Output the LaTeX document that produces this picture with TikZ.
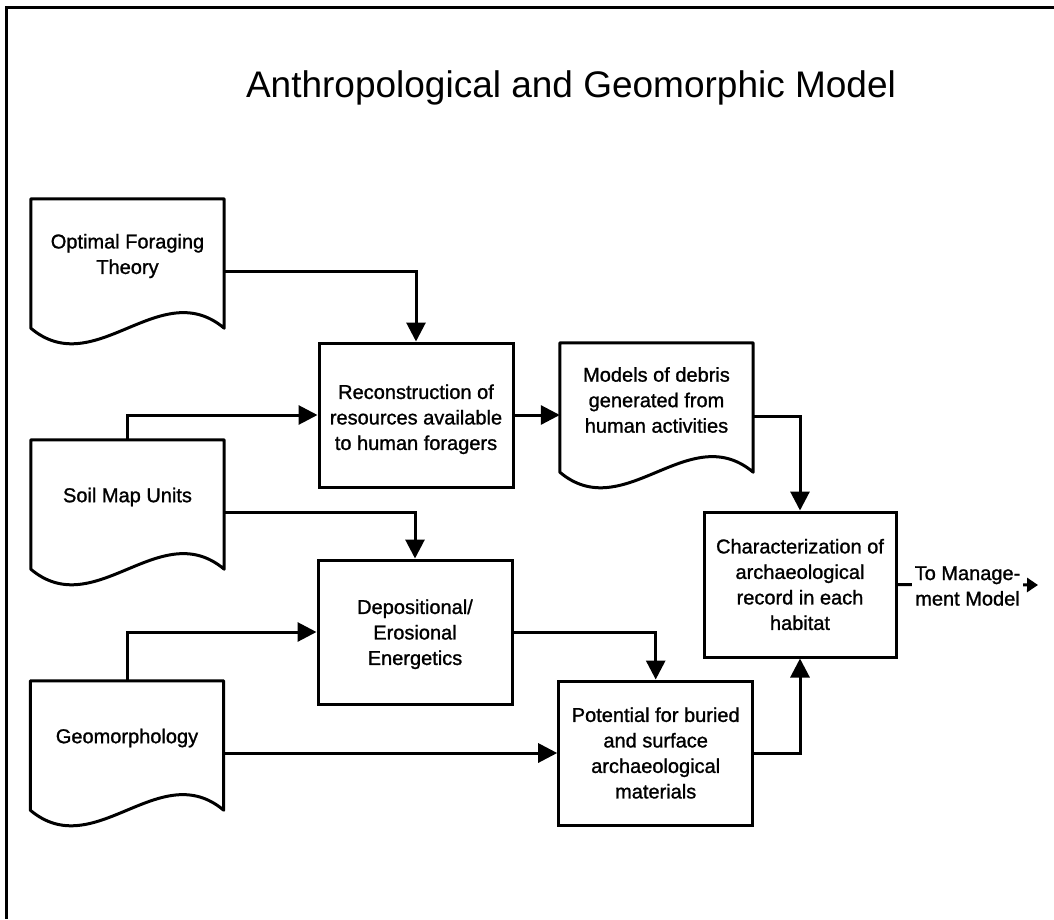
\documentclass[tikz,border=0pt]{standalone}
\usepackage{fontspec}
\setmainfont{Liberation Sans}
\newfontfamily\heavysans[RawFeature={embolden=1.2}]{Liberation Sans}
\usetikzlibrary{arrows.meta}
\begin{document}
\begin{tikzpicture}[x=1pt,y=-1pt,
  txt/.style={font=\heavysans\fontsize{20}{25.5}\selectfont, align=center},
  procbox/.style={txt, draw, line width=3pt, minimum width=194pt, minimum height=144pt, inner sep=0pt},
  docnode/.style={txt, minimum width=193pt, minimum height=114pt, inner sep=0pt},
  docline/.style={line width=3pt, line join=round},
  conn/.style={line width=3pt, -{Triangle[length=19pt,width=19pt]}},
  outarrow/.style={line width=3pt, -{Triangle[length=11pt,width=14pt]}},
  framel/.style={line width=3pt},
  titlef/.style={font=\fontsize{37}{44}\selectfont, anchor=base}
]
\useasboundingbox (0,0) rectangle (1054,919);
\draw[framel] (1054,7) -- (6,7) -- (6,919);
\node[titlef] (title) at (571,97) {Anthropological and Geomorphic Model};

% documents
\node[docnode] (oft) at (127.5,256) {Optimal Foraging\\Theory};
\node[docnode] (soil) at (127.5,497) {Soil Map Units};
\node[docnode] (geo) at (127,738) {Geomorphology};
\node[docnode] (models) at (656.5,400) {Models of debris\\generated from\\human activities};
\foreach \n in {oft,soil,geo,models}
  \draw[docline] (\n.north west) -- (\n.north east) -- ([yshift=-15pt]\n.south east)
    .. controls +(-64.3,-54) and +(64.3,54) .. ([yshift=-15pt]\n.south west) -- cycle;

% process boxes
\node[procbox] (recon) at (416,415) {\rule{0pt}{23pt}Reconstruction of\\resources available\\to human foragers};
\node[procbox] (dep) at (415,632) {\rule{0pt}{19pt}Depositional/\\Erosional\\Energetics};
\node[procbox] (pot) at (655.7,753) {Potential for buried\\and surface\\archaeological\\materials};
\node[procbox, minimum width=192pt, minimum height=145pt] (char) at (800,584.5) {Characterization of\\archaeological\\record in each\\habitat};

% connectors
\draw[conn] ([yshift=-15pt]oft.east) -| (recon.north);
\draw[conn] (soil.north) |- (recon.west);
\draw[conn] ([yshift=-15pt]soil.east) -| (dep.north);
\draw[conn] (geo.north) |- (dep.west);
\draw[conn] (geo.east |- pot.west) -- (pot.west);
\draw[conn] (dep.east) -| (pot.north);
\draw[conn] (recon.east) -- (models.west |- recon.east);
\draw[conn] ([yshift=-16pt]models.east) -| (char.north);
\draw[conn] (pot.east) -| (char.south);

\coordinate (outend) at (1038,585);
\draw[outarrow] (char.east) -- (outend);
\node[txt, fill=white, inner xsep=3pt, inner ysep=0pt] (tmm) at (967.5,586) {To Manage-\\ment Model};
\end{tikzpicture}
\end{document}
